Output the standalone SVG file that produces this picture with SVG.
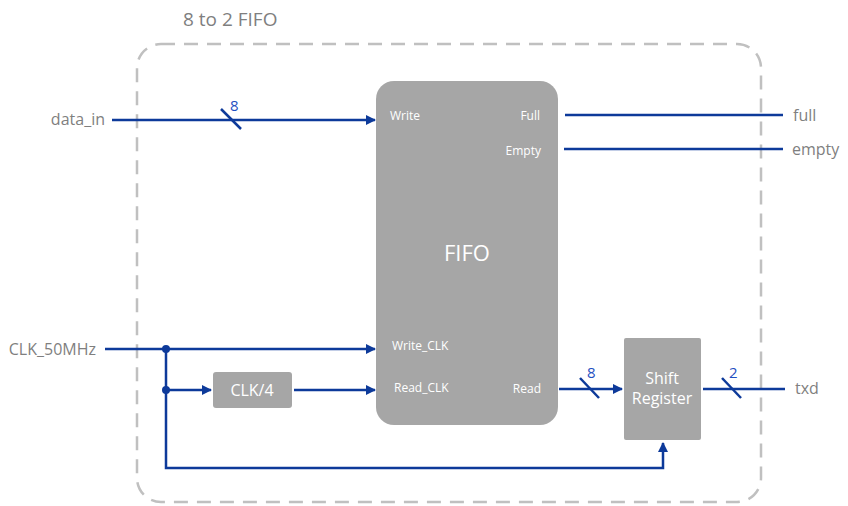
<svg xmlns="http://www.w3.org/2000/svg" width="848" height="506" viewBox="0 0 848 506">
<style>
.lbl{font-family:"Open Sans","Noto Sans","Liberation Sans",sans-serif;fill:#7f7f7f;font-size:16px}
.in{font-family:"Open Sans","Noto Sans","Liberation Sans",sans-serif;fill:#ffffff;font-size:12px}
.blk{fill:#a6a6a6}
.w{stroke:#0d3a9a;stroke-width:2.5;fill:none}
.bus{font-family:"Open Sans","Noto Sans","Liberation Sans",sans-serif;fill:#1f4fc1;font-size:15px}
</style>
<defs>
<marker id="arr" markerWidth="10" markerHeight="10" refX="9" refY="5" orient="auto" markerUnits="userSpaceOnUse">
<path d="M0,0 L10,5 L0,10 Z" fill="#0d3a9a"/>
</marker>
</defs>
<g id="container">
<rect x="137" y="44" width="624" height="458" rx="24" fill="none" stroke="#c0c0c0" stroke-width="2.5" stroke-dasharray="14,9"/>
<text class="lbl" x="183" y="26" style="font-size:19px">8 to 2 FIFO</text>
</g>
<g id="fifo">
<rect class="blk" x="376" y="81" width="182" height="344" rx="18"/>
<text class="in" x="390" y="120">Write</text>
<text class="in" x="540" y="120" text-anchor="end">Full</text>
<text class="in" x="541" y="155" text-anchor="end">Empty</text>
<text class="in" x="467" y="261" text-anchor="middle" style="font-size:22px">FIFO</text>
<text class="in" x="392" y="350">Write_CLK</text>
<text class="in" x="394" y="392">Read_CLK</text>
<text class="in" x="541" y="393" text-anchor="end">Read</text>
</g>
<g id="clkdiv">
<rect class="blk" x="213" y="372" width="79" height="36" rx="3"/>
<text class="in" x="252" y="396" text-anchor="middle" style="font-size:16px">CLK/4</text>
</g>
<g id="shiftreg">
<rect class="blk" x="624" y="338" width="77" height="102" rx="2"/>
<text class="in" x="662" y="384" text-anchor="middle" style="font-size:16px">Shift</text>
<text class="in" x="662" y="404" text-anchor="middle" style="font-size:16px">Register</text>
</g>
<g id="ports">
<text class="lbl" x="105" y="125" text-anchor="end">data_in</text>
<text class="lbl" x="96" y="355" text-anchor="end">CLK_50MHz</text>
<text class="lbl" x="793" y="121">full</text>
<text class="lbl" x="792" y="155">empty</text>
<text class="lbl" x="795" y="394">txd</text>
</g>
<g id="connectors">
<line class="w" x1="112" y1="120" x2="375" y2="120" marker-end="url(#arr)"/>
<line class="w" x1="221" y1="109" x2="241" y2="129"/>
<text class="bus" x="230" y="111">8</text>
<line class="w" x1="565" y1="115" x2="783" y2="115"/>
<line class="w" x1="564" y1="149" x2="783" y2="149"/>
<line class="w" x1="105" y1="349" x2="375" y2="349" marker-end="url(#arr)"/>
<polyline class="w" points="166,349 166,468 663,468 663,443" marker-end="url(#arr)"/>
<line class="w" x1="166" y1="390" x2="211" y2="390" marker-end="url(#arr)"/>
<line class="w" x1="294" y1="390" x2="375" y2="390" marker-end="url(#arr)"/>
<circle cx="166" cy="349" r="4" fill="#0d3a9a"/>
<circle cx="166" cy="390" r="4" fill="#0d3a9a"/>
<line class="w" x1="559" y1="389" x2="622" y2="389" marker-end="url(#arr)"/>
<line class="w" x1="580" y1="378" x2="599" y2="398"/>
<text class="bus" x="587" y="378">8</text>
<line class="w" x1="703" y1="389" x2="785" y2="389"/>
<line class="w" x1="722" y1="378" x2="741" y2="398"/>
<text class="bus" x="729" y="378">2</text>
</g>
</svg>
